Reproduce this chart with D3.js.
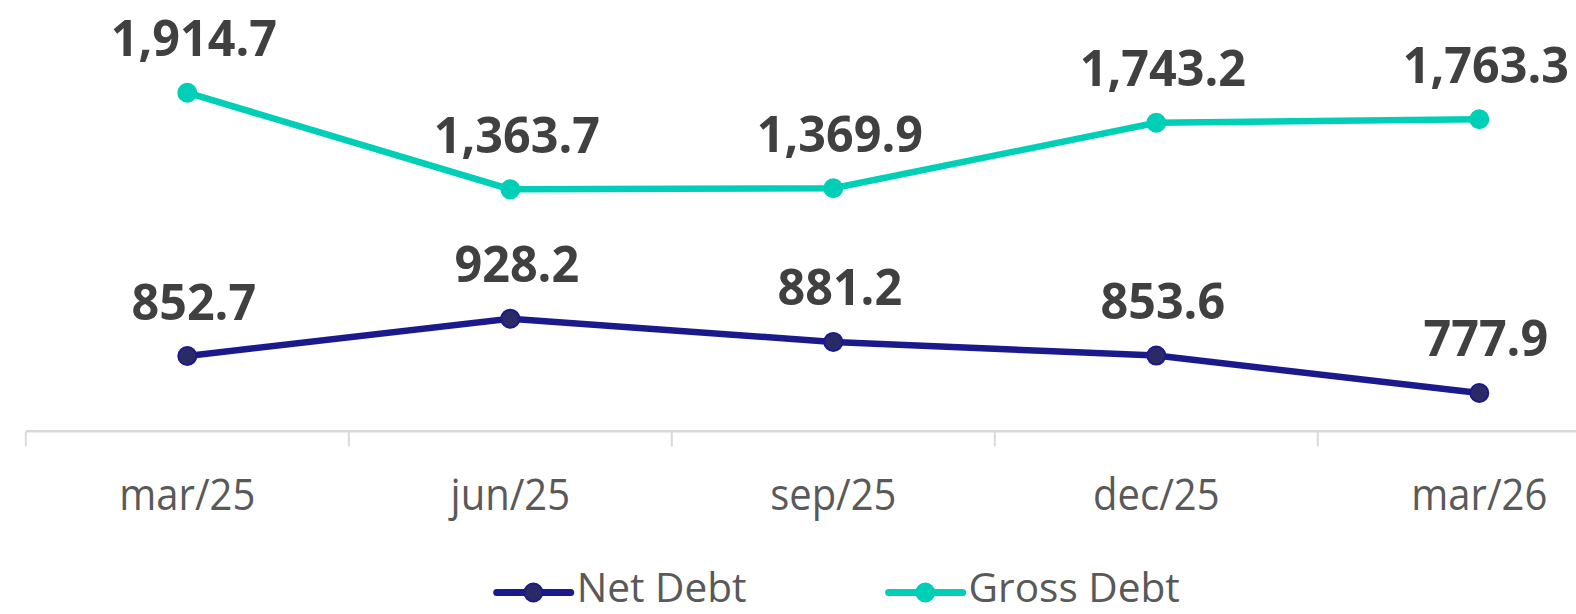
<!DOCTYPE html>
<html>
<head>
<meta charset="utf-8">
<script src="https://cdn.jsdelivr.net/npm/d3@7"></script>
<style>
  html, body { margin: 0; padding: 0; background: #ffffff; }
  svg { display: block; }
</style>
</head>
<body>
<svg id="chart" width="1576" height="614"></svg>
<script>
const categories = ["mar/25", "jun/25", "sep/25", "dec/25", "mar/26"];
const netDebt = [852.7, 928.2, 881.2, 853.6, 777.9];
const grossDebt = [1914.7, 1363.7, 1369.9, 1743.2, 1763.3];
const seriesNames = ["Net Debt", "Gross Debt"];

const W = 1576, H = 614;
const svg = d3.select("#chart");
svg.append("rect").attr("width", W).attr("height", H).attr("fill", "#ffffff");

const x = d3.scaleBand().domain(categories).range([25.8, 1640.8]);
const yNet = d3.scaleLinear().domain([700, 1600]).range([431.5, -13.4]);
const yGross = d3.scaleLinear().domain([0, 2500]).range([428.4, -9.9]);
const cx = c => x(c) + x.bandwidth() / 2;

const colors = { net: "#1b1a8c", netFill: "#2a2a66", gross: "#00cfb7" };
const fmt = d3.format(",.1f");
const FONT = "'Open Sans', 'Noto Sans', sans-serif";

function scaledText(g, tx, ty, txt, opts) {
  const grp = g.append("g").attr("transform", `translate(${tx},${ty}) scale(${opts.sx},1)`);
  grp.append("text")
    .attr("text-anchor", opts.anchor || "middle")
    .attr("font-family", FONT)
    .attr("font-size", opts.size)
    .attr("font-weight", opts.weight || 400)
    .attr("fill", opts.fill)
    .text(txt);
  return grp;
}

// x axis
const axisY = 431.3;
const axis = svg.append("g").attr("transform", `translate(0,${axisY})`)
  .call(d3.axisBottom(x).tickSize(0).tickFormat(""));
axis.select(".domain").remove();
axis.append("line").attr("x1", 25.8).attr("x2", W).attr("y1", 0).attr("y2", 0)
  .attr("stroke", "#d9d9d9").attr("stroke-width", 2.5);
axis.selectAll(".bnd").data(categories).join("line").attr("class", "bnd")
  .attr("x1", d => x(d)).attr("x2", d => x(d)).attr("y1", 0).attr("y2", 15)
  .attr("stroke", "#d9d9d9").attr("stroke-width", 2);
categories.forEach(c => scaledText(svg, cx(c), 510, c, { sx: 0.93, size: 43, fill: "#595959" }));

// series
function drawSeries(vals, yS, stroke, fill) {
  const line = d3.line().x((d, i) => cx(categories[i])).y(d => yS(d));
  svg.append("path").datum(vals).attr("d", line).attr("fill", "none")
    .attr("stroke", stroke).attr("stroke-width", 6.5).attr("stroke-linejoin", "round");
  svg.selectAll(null).data(vals).join("circle")
    .attr("cx", (d, i) => cx(categories[i])).attr("cy", d => yS(d)).attr("r", 9)
    .attr("fill", fill).attr("stroke", stroke).attr("stroke-width", 2);
  vals.forEach((v, i) => scaledText(svg, cx(categories[i]) + 6.5, yS(v) - 36.5, fmt(v),
    { sx: 0.97, size: 50, weight: 700, fill: "#404040" }));
}
drawSeries(grossDebt, yGross, colors.gross, colors.gross);
drawSeries(netDebt, yNet, colors.net, colors.netFill);

// legend
const legend = [
  { name: seriesNames[0], stroke: colors.net, fill: colors.netFill, x0: 496.7 },
  { name: seriesNames[1], stroke: colors.gross, fill: colors.gross, x0: 888.6 }
];
legend.forEach(l => {
  const ly = 592.5;
  svg.append("line").attr("x1", l.x0).attr("x2", l.x0 + 74).attr("y1", ly).attr("y2", ly)
    .attr("stroke", l.stroke).attr("stroke-width", 7).attr("stroke-linecap", "round");
  svg.append("circle").attr("cx", l.x0 + 36.7).attr("cy", ly).attr("r", 9)
    .attr("fill", l.fill).attr("stroke", l.stroke).attr("stroke-width", 2);
  scaledText(svg, l.x0 + 80, 602, l.name, { sx: 0.99, size: 41, fill: "#595959", anchor: "start" });
});
</script>
</body>
</html>
